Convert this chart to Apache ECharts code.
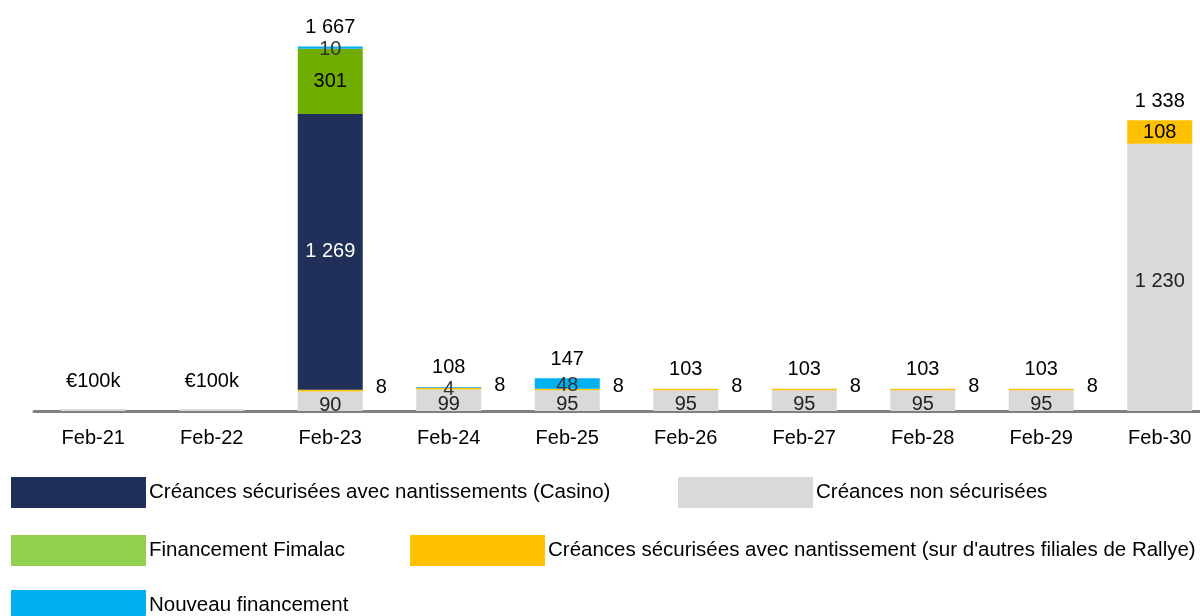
<!DOCTYPE html>
<html>
<head>
<meta charset="utf-8">
<script src="https://cdn.jsdelivr.net/npm/echarts@6/dist/echarts.min.js"></script>
<style>html,body{margin:0;padding:0;background:#fff;overflow:hidden}#c{width:1220px;height:616px}</style>
</head>
<body>
<div id="c"></div>
<script>
const categories = ['Feb-21','Feb-22','Feb-23','Feb-24','Feb-25','Feb-26','Feb-27','Feb-28','Feb-29','Feb-30'];
const nonSecurisees = [0.1, 0.1, 90, 99, 95, 95, 95, 95, 95, 1230];
const autresFiliales = [null, null, 8, 8, 8, 8, 8, 8, 8, 108];
const casino = [null, null, 1269, null, null, null, null, null, null, null];
const fimalac = [null, null, 301, null, null, null, null, null, null, null];
const nouveau = [null, null, 10, 4, 48, null, null, null, null, null];
const totals = [0.1, 0.1, 1667, 108, 147, 103, 103, 103, 103, 1338];

const FONT = '"Liberation Sans", Arial, sans-serif';
function fmt(v) {
  if (v < 1) return '€' + Math.round(v * 1000) + 'k';
  return String(v).replace(/\B(?=(\d{3})+(?!\d))/g, ' ');
}
const lbl = { fontFamily: FONT, fontSize: 20, color: '#000' };

const names = {
  grey: 'Créances non sécurisées',
  orange: "Créances sécurisées avec nantissement (sur d'autres filiales de Rallye)",
  navy: 'Créances sécurisées avec nantissements (Casino)',
  green: 'Financement Fimalac',
  blue: 'Nouveau financement'
};

const orangeData = autresFiliales.map((v, i) => {
  if (v == null) return v;
  if (i === categories.length - 1) {
    return { value: v, label: { position: 'inside', offset: [0, 0] } };
  }
  return v;
});

const totalData = totals.map((v) => ({
  value: 0,
  label: v < 1 ? { distance: 19 } : {}
}));

function legend(name, left, top, color) {
  const d = { name: name };
  if (color) d.itemStyle = { color: color };
  return {
    data: [d], left: left, top: top, orient: 'horizontal',
    icon: 'rect', itemWidth: 135, itemHeight: 31, itemGap: 0, padding: 0,
    selectedMode: false,
    textStyle: { fontFamily: FONT, fontSize: 20.5, color: '#000', padding: [0, 0, 0, -2] }
  };
}

const option = {
  animation: false,
  backgroundColor: '#fff',
  grid: { left: 34, width: 1185, top: 20, bottom: 205, containLabel: false },
  legend: [
    legend(names.navy, 11, 477),
    legend(names.grey, 678, 477),
    legend(names.green, 11, 535, '#92d050'),
    legend(names.orange, 410, 535),
    legend(names.blue, 11, 590)
  ],
  xAxis: {
    type: 'category', data: categories,
    axisLine: { lineStyle: { color: '#808080', width: 3 } },
    axisTick: { show: false },
    axisLabel: { fontFamily: FONT, fontSize: 20, color: '#000', margin: 17 }
  },
  yAxis: { type: 'value', min: 0, max: 1800, show: false, splitLine: { show: false } },
  series: [
    {
      name: names.grey, type: 'bar', stack: 's', barWidth: 65, barMinHeight: 2,
      data: nonSecurisees, itemStyle: { color: '#d9d9d9' },
      label: { show: true, position: 'inside', offset: [0, 4], ...lbl, color: '#222',
        formatter: p => p.value < 1 ? '' : fmt(p.value) }
    },
    {
      name: names.orange, type: 'bar', stack: 's', data: orangeData,
      itemStyle: { color: '#ffc000' },
      label: { show: true, position: 'right', distance: 13, offset: [0, -3], ...lbl,
        formatter: p => fmt(p.value) }
    },
    {
      name: names.navy, type: 'bar', stack: 's', data: casino,
      itemStyle: { color: '#203058' },
      label: { show: true, position: 'inside', ...lbl, color: '#fff', formatter: p => fmt(p.value) }
    },
    {
      name: names.green, type: 'bar', stack: 's', data: fimalac,
      itemStyle: { color: '#70ad00' },
      label: { show: true, position: 'inside', ...lbl, formatter: p => fmt(p.value) }
    },
    {
      name: names.blue, type: 'bar', stack: 's', data: nouveau,
      itemStyle: { color: '#00b0f0' },
      label: { show: true, position: 'inside', offset: [0, 2], ...lbl, color: '#333', formatter: p => fmt(p.value) }
    },
    {
      name: 'total', type: 'bar', stack: 's', data: totalData,
      itemStyle: { color: 'transparent' },
      label: { show: true, position: 'top', distance: 9, ...lbl,
        formatter: p => fmt(totals[p.dataIndex]) }
    }
  ]
};
echarts.init(document.getElementById('c'), null, { renderer: 'canvas' }).setOption(option);
</script>
</body>
</html>
